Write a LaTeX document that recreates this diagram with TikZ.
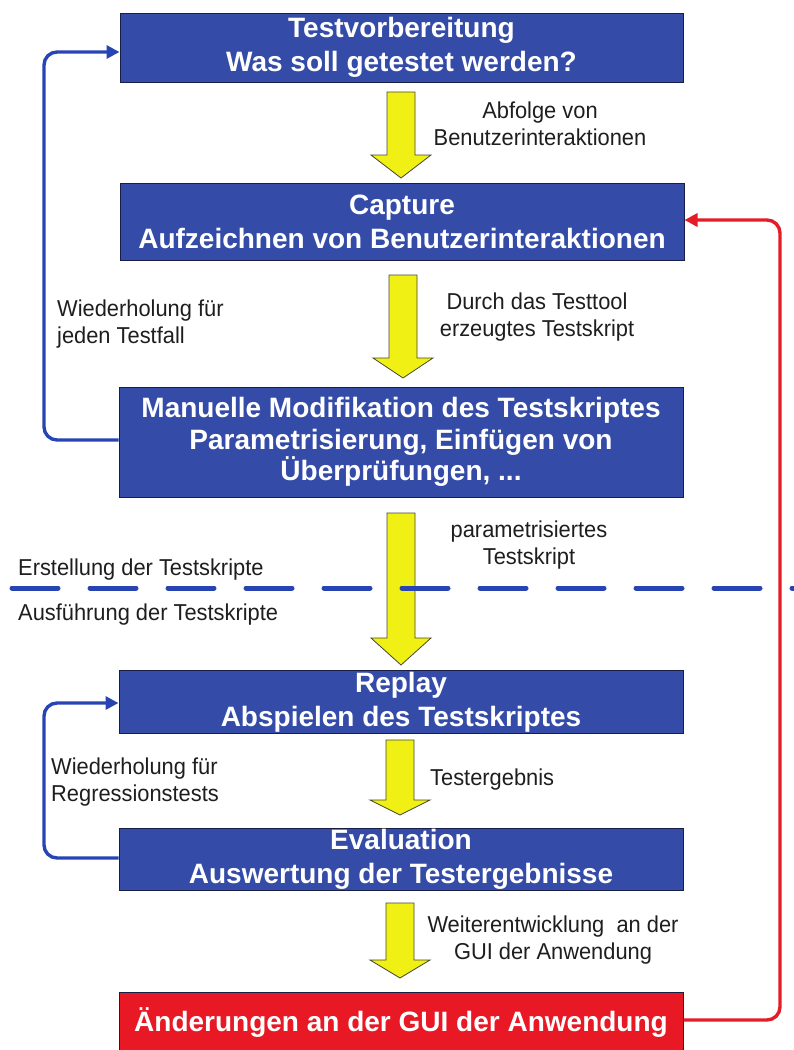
\documentclass[tikz,border=0pt]{standalone}
\usepackage{fontspec}
\setmainfont{Liberation Sans}
\newfontfamily\notefont[FakeStretch=0.95]{Liberation Sans}
\usetikzlibrary{arrows.meta}
\definecolor{boxblue}{RGB}{52,76,168}
\definecolor{boxedge}{RGB}{25,30,70}
\definecolor{boxred}{RGB}{232,24,36}
\definecolor{loopblue}{RGB}{40,68,178}
\definecolor{loopred}{RGB}{228,28,40}
\definecolor{flowyellow}{RGB}{240,240,20}
\definecolor{flowedge}{RGB}{70,70,50}
\definecolor{notegray}{RGB}{30,30,30}
\tikzset{
  stage/.style={draw=boxedge, line width=1pt, fill=boxblue, text=white,
    font=\bfseries\fontsize{28}{34}\selectfont, align=center, inner sep=0pt},
  redstage/.style={stage, fill=boxred},
  note/.style={font=\notefont\fontsize{23}{27}\selectfont, text=notegray, align=center, inner sep=0pt},
  lnote/.style={note, align=left, anchor=west},
  loop/.style={draw=loopblue, line width=3.4pt, rounded corners=13pt,
    -{Triangle[length=13pt,width=13pt]}},
  redloop/.style={loop, draw=loopred},
  separator/.style={draw=loopblue, line width=5pt, dash pattern=on 46pt off 32pt, line cap=round},
  flow/.style={fill=flowyellow, draw=flowedge, line width=0.8pt, line join=miter}
}
% yellow block arrow: centre x, top, start of head, tip
\newcommand\flowarrow[4]{%
  \draw[flow] (#1-14,#2) -- (#1+14,#2) -- (#1+14,#3) -- (#1+30,#3) -- (#1,#4)
    -- (#1-30,#3) -- (#1-14,#3) -- cycle;}
\begin{document}
\begin{tikzpicture}[x=1pt,y=-1pt]
\useasboundingbox (0,0) rectangle (794,1050);

% stages
\node[stage, minimum width=563pt, minimum height=69pt] (prep) at (401.5,47.5)
  {Testvorbereitung\\Was soll getestet werden?};
\node[stage, minimum width=564pt, minimum height=77pt] (capture) at (402,221.5)
  {Capture\\Aufzeichnen von Benutzerinteraktionen};
\node[stage, minimum width=564pt, minimum height=110pt, font=\bfseries\fontsize{28}{31.5}\selectfont] (modify) at (401,442)
  {Manuelle Modifikation des Testskriptes\\Parametrisierung, Einfügen von\\Überprüfungen, ...};
\node[stage, minimum width=564pt, minimum height=63pt] (replay) at (401,702)
  {Replay\\Abspielen des Testskriptes};
\node[stage, minimum width=564pt, minimum height=62pt] (eval) at (401,859)
  {Evaluation\\Auswertung der Testergebnisse};
\node[redstage, minimum width=564pt, minimum height=66pt, anchor=north] (change) at (401,992) {};
\node[text=white, font=\bfseries\fontsize{28}{32}\selectfont, inner sep=0pt] (changetxt) at (401,1022)
  {Änderungen an der GUI der Anwendung};

% flow between stages
\flowarrow{401}{92}{155}{178}
\flowarrow{403}{275}{358}{378}
\flowarrow{401}{513}{638}{665}
\flowarrow{400}{740}{800}{815}
\flowarrow{400}{903}{960}{978}

% separator between creating and executing the scripts
\draw[separator] (12,588) -- (800,588);

% flow labels
\node[note] (l1) at (540,124) {Abfolge von\\Benutzerinteraktionen};
\node[note] (l2) at (537,317) {Durch das Testtool\\erzeugtes Testskript};
\node[note] (l3) at (529,545) {parametrisiertes\\Testskript};
\node[lnote] (l4) at (430,780) {Testergebnis};
\node[note] (l5) at (553,940) {Weiterentwicklung\ \ an der\\GUI der Anwendung};

% loop labels
\node[lnote] (w1) at (57,324) {Wiederholung für\\jeden Testfall};
\node[lnote] (w2) at (51,782) {Wiederholung für\\Regressionstests};
\node[lnote] (s1) at (18,570) {Erstellung der Testskripte};
\node[lnote] (s2) at (18,615) {Ausführung der Testskripte};

% feedback loops
\coordinate (c1) at (44,440);
\draw[loop] (modify.west |- c1) -- (c1) -- (44,52) -- (prep.west |- 0,52);
\draw[loop] (eval.west |- 0,858) -- (44,858) -- (44,703) -- (replay.west |- 0,703);
\draw[redloop] (change.east |- 0,1020) -- (780,1020) -- (780,220) -- (capture.east |- 0,220);
\end{tikzpicture}
\end{document}
